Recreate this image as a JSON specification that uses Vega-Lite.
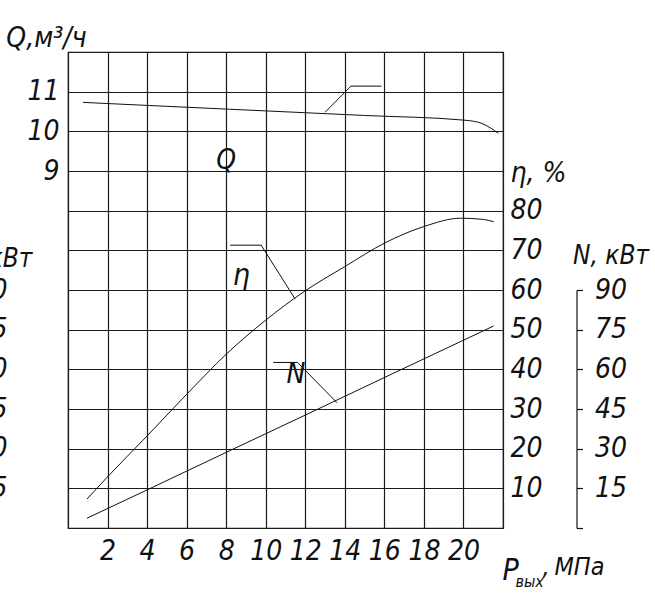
{
  "$schema": "https://vega.github.io/schema/vega-lite/v6.json",
  "width": 435,
  "height": 476,
  "autosize": {"type": "none"},
  "padding": {"left": 68, "top": 52, "right": 152, "bottom": 68},
  "background": "white",
  "config": {
    "view": {"stroke": "#1a1a1a", "strokeWidth": 1.2},
    "axis": {
      "labelFont": "Liberation Sans Narrow, DejaVu Sans Condensed, sans-serif",
      "labelFontStyle": "italic",
      "labelFontSize": 28,
      "labelColor": "#111",
      "titleFont": "Liberation Sans Narrow, DejaVu Sans Condensed, sans-serif",
      "titleFontStyle": "italic",
      "titleFontWeight": "normal",
      "titleFontSize": 28,
      "titleColor": "#111",
      "gridColor": "#1a1a1a",
      "gridOpacity": 1,
      "gridWidth": 1.2,
      "domainColor": "#111",
      "tickColor": "#111"
    },
    "text": {"font": "Liberation Sans Narrow, DejaVu Sans Condensed, sans-serif", "fontStyle": "italic", "color": "#111"},
    "line": {"color": "#111", "strokeWidth": 1}
  },
  "datasets": {
    "q": [
      {"p": 0.76, "Q": 10.73}, {"p": 5, "Q": 10.63}, {"p": 10, "Q": 10.515}, {"p": 15, "Q": 10.40},
      {"p": 20.08, "Q": 10.28}, {"p": 20.93, "Q": 10.2}, {"p": 21.35, "Q": 10.09}, {"p": 21.77, "Q": 9.95}
    ],
    "qLeader": [{"p": 13.0, "Q": 10.48}, {"p": 14.31, "Q": 11.14}, {"p": 15.86, "Q": 11.14}],
    "qText": [
      {"p": 8.0, "Q": 9.26, "t": "Q"}
    ],
    "bottomText": [
      {"p": 21.97, "Q": -1.31, "t": "Р", "s": 30},
      {"p": 22.63, "Q": -1.49, "t": "вых", "s": 16},
      {"p": 24.0, "Q": -1.18, "t": ",", "s": 25},
      {"p": 24.6, "Q": -1.18, "t": "МПа", "s": 25}
    ],
    "eta": [
      {"p": 0.96, "eta": 7.3}, {"p": 2, "eta": 12.9}, {"p": 4, "eta": 23.2}, {"p": 6, "eta": 33.7},
      {"p": 8, "eta": 43.8}, {"p": 10, "eta": 52.4}, {"p": 12, "eta": 59.8}, {"p": 14, "eta": 65.9},
      {"p": 16, "eta": 71.8}, {"p": 18, "eta": 76.0}, {"p": 19.85, "eta": 78.1}, {"p": 21.0, "eta": 77.8},
      {"p": 21.53, "eta": 77.2}
    ],
    "etaLeader": [{"p": 8.2, "eta": 71.3}, {"p": 9.77, "eta": 71.3}, {"p": 11.49, "eta": 57.7}],
    "etaText": [{"p": 8.77, "eta": 63.5, "t": "η"}],
    "n": [
      {"p": 0.96, "N": 3.7}, {"p": 4, "N": 14.4}, {"p": 8, "N": 28.6}, {"p": 12, "N": 42.7},
      {"p": 16, "N": 56.9}, {"p": 21.53, "N": 76.4}
    ],
    "nLeader": [{"p": 10.38, "N": 62.6}, {"p": 11.61, "N": 62.6}, {"p": 13.6, "N": 47.4}],
    "nText": [{"p": 11.53, "N": 57.9, "t": "N"}]
  },
  "encoding": {
    "x": {
      "field": "p",
      "type": "quantitative",
      "scale": {"domain": [0, 22], "nice": false, "zero": false},
      "axis": {
        "values": [0, 2, 4, 6, 8, 10, 12, 14, 16, 18, 20, 22],
        "labelExpr": "datum.value == 0 || datum.value == 22 ? '' : datum.label",
        "ticks": false,
        "domain": false,
        "grid": true,
        "labelPadding": 9,
        "title": null
      }
    }
  },
  "layer": [
    {
      "encoding": {
        "y": {
          "field": "Q",
          "type": "quantitative",
          "scale": {"domain": [0, 12], "nice": false, "zero": false},
          "axis": {
            "orient": "left",
            "values": [0, 1, 2, 3, 4, 5, 6, 7, 8, 9, 10, 11, 12],
            "labelExpr": "datum.value >= 9 && datum.value <= 11 ? datum.label : ''",
            "ticks": false,
            "domain": false,
            "grid": true,
            "labelPadding": 9,
            "title": "Q,м³/ч",
            "titleAngle": 0,
            "titleX": -22,
            "titleY": -14,
            "titleAlign": "center",
            "titleBaseline": "middle"
          }
        }
      },
      "layer": [
        {"data": {"name": "q"}, "mark": {"type": "line", "interpolate": "monotone"}},
        {"data": {"name": "qLeader"}, "mark": {"type": "line", "interpolate": "linear"}},
        {"data": {"name": "qText"}, "mark": {"type": "text", "fontSize": 28, "align": "center", "baseline": "middle"}, "encoding": {"text": {"field": "t"}}},
        {"data": {"name": "bottomText"}, "mark": {"type": "text", "align": "left", "baseline": "alphabetic"}, "encoding": {"text": {"field": "t"}, "size": {"field": "s", "type": "quantitative", "scale": null}}}
      ]
    },
    {
      "encoding": {
        "y": {
          "field": "eta",
          "type": "quantitative",
          "scale": {"domain": [0, 120], "nice": false, "zero": false},
          "axis": {
            "orient": "right",
            "values": [10, 20, 30, 40, 50, 60, 70, 80],
            "ticks": false,
            "domain": false,
            "grid": false,
            "labelPadding": 7,
            "title": "η, %",
            "titleAngle": 0,
            "titleX": 7,
            "titleY": 121,
            "titleAlign": "left",
            "titleBaseline": "middle"
          }
        }
      },
      "layer": [
        {"data": {"name": "eta"}, "mark": {"type": "line", "interpolate": "monotone"}},
        {"data": {"name": "etaLeader"}, "mark": {"type": "line", "interpolate": "linear"}},
        {"data": {"name": "etaText"}, "mark": {"type": "text", "fontSize": 30, "align": "center", "baseline": "middle"}, "encoding": {"text": {"field": "t"}}}
      ]
    },
    {
      "encoding": {
        "y": {
          "field": "N",
          "type": "quantitative",
          "scale": {"domain": [0, 90], "range": [476, 238], "nice": false, "zero": false},
          "axis": {
            "orient": "right",
            "offset": 73.5,
            "values": [0, 15, 30, 45, 60, 75, 90],
            "labelExpr": "datum.value == 0 ? '' : datum.label",
            "ticks": true,
            "tickSize": 6,
            "tickWidth": 1.2,
            "domain": true,
            "domainWidth": 1.2,
            "grid": false,
            "labelPadding": 12,
            "title": "N, кВт",
            "titleAngle": 0,
            "titleX": -4,
            "titleY": 203,
            "titleAlign": "left",
            "titleBaseline": "middle",
            "titleFontSize": 26
          }
        }
      },
      "layer": [
        {"data": {"name": "n"}, "mark": {"type": "line", "interpolate": "linear"}},
        {"data": {"name": "nLeader"}, "mark": {"type": "line", "interpolate": "linear"}},
        {"data": {"name": "nText"}, "mark": {"type": "text", "fontSize": 28, "align": "center", "baseline": "middle"}, "encoding": {"text": {"field": "t"}}}
      ]
    },
    {
      "data": {"name": "nText"},
      "mark": {"type": "point", "opacity": 0},
      "encoding": {
        "y": {
          "field": "N",
          "type": "quantitative",
          "scale": {"domain": [0, 90], "range": [476, 238], "nice": false, "zero": false},
          "axis": {
            "orient": "left",
            "offset": 61,
            "values": [15, 30, 45, 60, 75, 90],
            "ticks": false,
            "domain": false,
            "grid": false,
            "labelPadding": 0,
            "title": "N, кВт",
            "titleAngle": 0,
            "titleX": 25,
            "titleY": 206,
            "titleAlign": "right",
            "titleBaseline": "middle",
            "titleFontSize": 26
          }
        }
      }
    }
  ],
  "resolve": {"scale": {"y": "independent"}, "axis": {"y": "independent"}}
}
